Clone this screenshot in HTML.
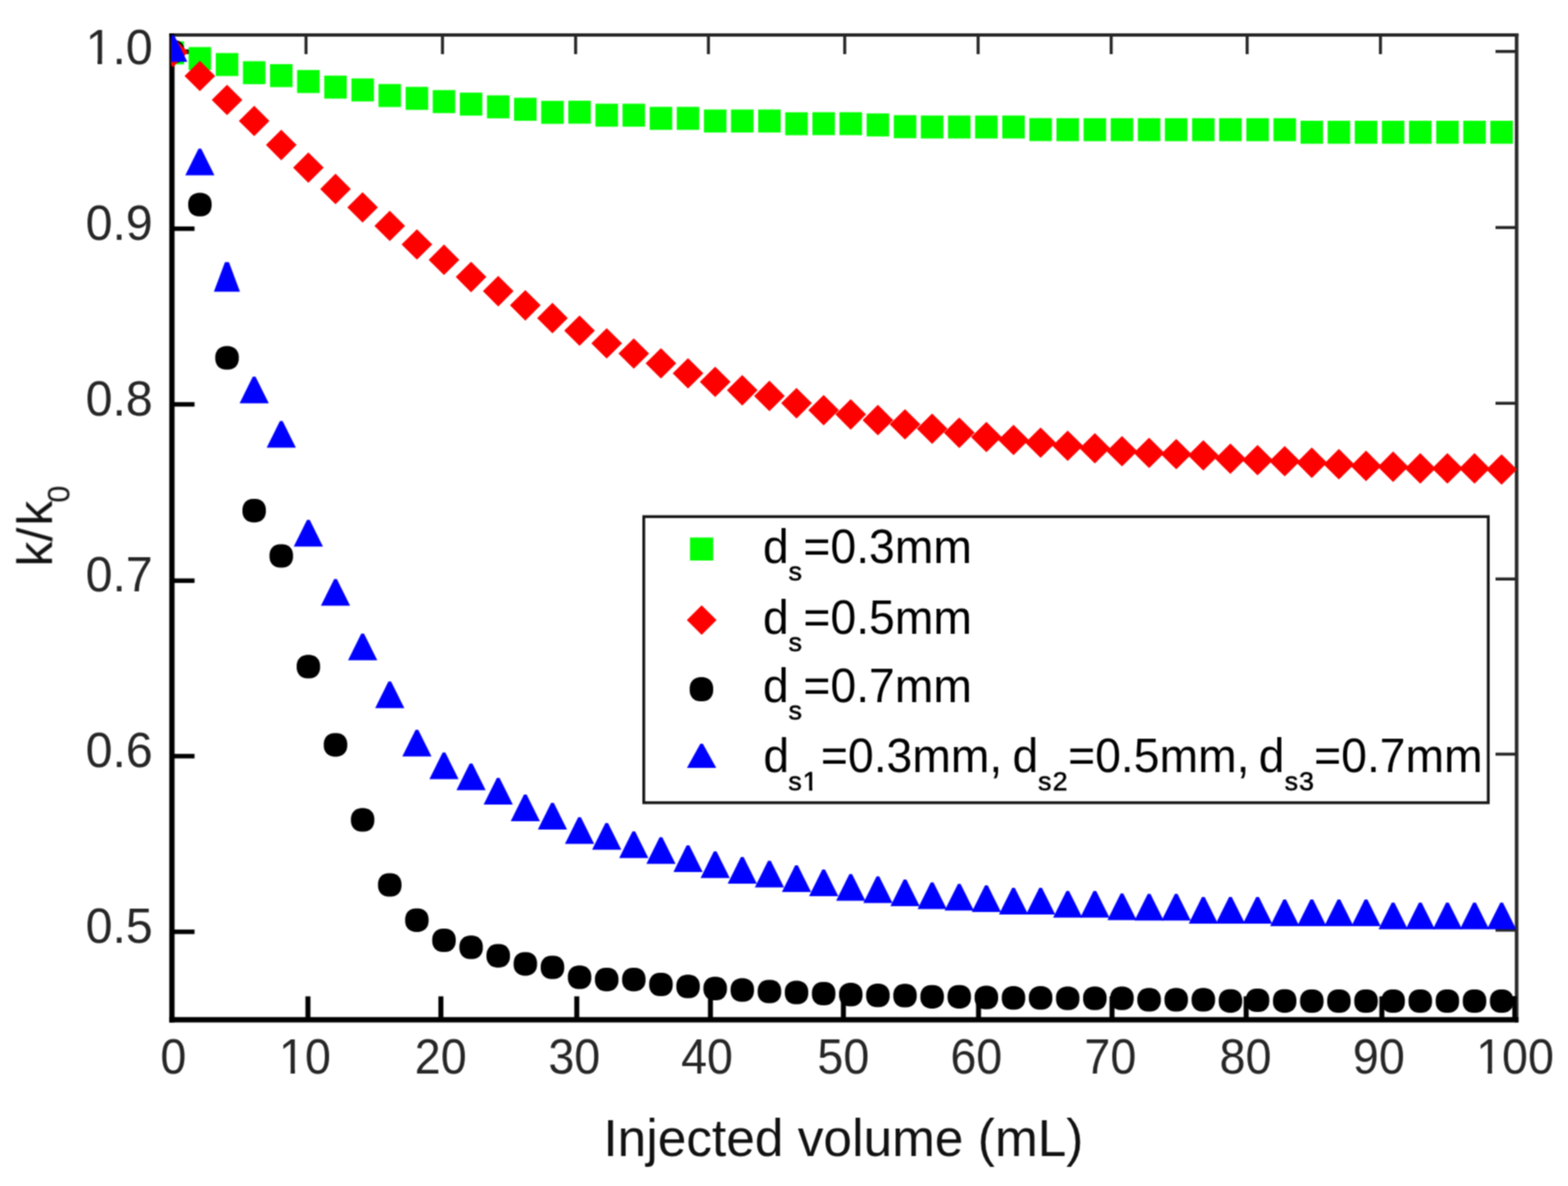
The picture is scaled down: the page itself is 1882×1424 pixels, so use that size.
<!DOCTYPE html>
<html><head><meta charset="utf-8"><title>k/k0 vs injected volume</title>
<style>html,body{margin:0;padding:0;background:#fff;}body{width:1882px;height:1424px;overflow:hidden;}svg{display:block;}.sb{stroke:#000;stroke-width:0.7px;}</style>
</head><body>
<svg width="1882" height="1424" viewBox="0 0 1882 1424">
<defs><filter id="bl" x="0" y="0" width="100%" height="100%" filterUnits="userSpaceOnUse" color-interpolation-filters="sRGB"><feConvolveMatrix order="3" kernelMatrix="1 2 1 2 4 2 1 2 1" divisor="16" edgeMode="duplicate" preserveAlpha="false"/></filter><clipPath id="pc"><rect x="205.6" y="40" width="1616" height="1187"/></clipPath></defs>
<rect width="1882" height="1424" fill="#fff"/>
<g filter="url(#bl)">
<rect x="203.2" y="40" width="1619.3" height="4" fill="#262626"/><rect x="1818.2" y="40" width="4.3" height="1187.6" fill="#2a2a2a"/><rect x="203.2" y="40" width="6.3" height="1187.6" fill="#000"/><rect x="203.2" y="1221.2" width="1619.3" height="6.4" fill="#000"/><rect x="366.6" y="1196.3" width="6" height="26" fill="#000"/><rect x="365.5" y="43" width="3.6" height="22" fill="#262626"/><rect x="526.2" y="1196.3" width="6" height="26" fill="#000"/><rect x="529.3" y="43" width="3.6" height="22" fill="#262626"/><rect x="689.3" y="1196.3" width="6" height="26" fill="#000"/><rect x="689.1" y="43" width="3.6" height="22" fill="#262626"/><rect x="849.7" y="1196.3" width="6" height="26" fill="#000"/><rect x="848.5" y="43" width="3.6" height="22" fill="#262626"/><rect x="1009.3" y="1196.3" width="6" height="26" fill="#000"/><rect x="1012.1" y="43" width="3.6" height="22" fill="#262626"/><rect x="1171.5" y="1196.3" width="6" height="26" fill="#000"/><rect x="1172.2" y="43" width="3.6" height="22" fill="#262626"/><rect x="1331.7" y="1196.3" width="6" height="26" fill="#000"/><rect x="1331.9" y="43" width="3.6" height="22" fill="#262626"/><rect x="1492.7" y="1196.3" width="6" height="26" fill="#000"/><rect x="1495.1" y="43" width="3.6" height="22" fill="#262626"/><rect x="1655.6" y="1196.3" width="6" height="26" fill="#000"/><rect x="1655.1" y="43" width="3.6" height="22" fill="#262626"/><rect x="1815.2" y="1196" width="5" height="26" fill="#000"/><rect x="209" y="59.4" width="24.5" height="5.4" fill="#000"/><rect x="1795" y="60.0" width="24" height="3.6" fill="#262626"/><rect x="209" y="271.9" width="24.5" height="5.4" fill="#000"/><rect x="1795" y="271.4" width="24" height="3.6" fill="#262626"/><rect x="209" y="482.8" width="24.5" height="5.4" fill="#000"/><rect x="1795" y="482.4" width="24" height="3.6" fill="#262626"/><rect x="209" y="694.5" width="24.5" height="5.4" fill="#000"/><rect x="1795" y="693.4" width="24" height="3.6" fill="#262626"/><rect x="209" y="905.2" width="24.5" height="5.4" fill="#000"/><rect x="1795" y="903.7" width="24" height="3.6" fill="#262626"/><rect x="209" y="1116.1" width="24.5" height="5.4" fill="#000"/><rect x="1795" y="1115.0" width="24" height="3.6" fill="#262626"/>
<g clip-path="url(#pc)">
<g fill="#00ff00"><rect x="193.9" y="49.7" width="27.0" height="27.6"/><rect x="226.4" y="56.5" width="27.0" height="27.6"/><rect x="259.0" y="63.7" width="27.0" height="27.6"/><rect x="291.6" y="73.5" width="27.0" height="27.6"/><rect x="324.1" y="77.0" width="27.0" height="27.6"/><rect x="356.6" y="84.1" width="27.0" height="27.6"/><rect x="389.2" y="90.8" width="27.0" height="27.6"/><rect x="421.8" y="94.2" width="27.0" height="27.6"/><rect x="454.3" y="100.9" width="27.0" height="27.6"/><rect x="486.9" y="104.3" width="27.0" height="27.6"/><rect x="519.4" y="108.2" width="27.0" height="27.6"/><rect x="551.9" y="111.2" width="27.0" height="27.6"/><rect x="584.5" y="114.5" width="27.0" height="27.6"/><rect x="617.0" y="117.4" width="27.0" height="27.6"/><rect x="649.6" y="121.1" width="27.0" height="27.6"/><rect x="682.1" y="120.9" width="27.0" height="27.6"/><rect x="714.7" y="124.5" width="27.0" height="27.6"/><rect x="747.2" y="124.5" width="27.0" height="27.6"/><rect x="779.8" y="128.3" width="27.0" height="27.6"/><rect x="812.3" y="128.3" width="27.0" height="27.6"/><rect x="844.9" y="131.5" width="27.0" height="27.6"/><rect x="877.4" y="131.5" width="27.0" height="27.6"/><rect x="910.0" y="131.5" width="27.0" height="27.6"/><rect x="942.5" y="134.8" width="27.0" height="27.6"/><rect x="975.1" y="134.7" width="27.0" height="27.6"/><rect x="1007.6" y="134.7" width="27.0" height="27.6"/><rect x="1040.2" y="136.2" width="27.0" height="27.6"/><rect x="1072.8" y="138.3" width="27.0" height="27.6"/><rect x="1105.3" y="138.7" width="27.0" height="27.6"/><rect x="1137.8" y="138.7" width="27.0" height="27.6"/><rect x="1170.4" y="138.7" width="27.0" height="27.6"/><rect x="1203.0" y="138.7" width="27.0" height="27.6"/><rect x="1235.5" y="141.8" width="27.0" height="27.6"/><rect x="1268.0" y="141.9" width="27.0" height="27.6"/><rect x="1300.6" y="141.9" width="27.0" height="27.6"/><rect x="1333.2" y="141.9" width="27.0" height="27.6"/><rect x="1365.7" y="141.9" width="27.0" height="27.6"/><rect x="1398.2" y="141.9" width="27.0" height="27.6"/><rect x="1430.8" y="141.9" width="27.0" height="27.6"/><rect x="1463.3" y="141.9" width="27.0" height="27.6"/><rect x="1495.9" y="141.9" width="27.0" height="27.6"/><rect x="1528.5" y="141.9" width="27.0" height="27.6"/><rect x="1561.0" y="145.0" width="27.0" height="27.6"/><rect x="1593.5" y="145.0" width="27.0" height="27.6"/><rect x="1626.1" y="145.0" width="27.0" height="27.6"/><rect x="1658.6" y="145.0" width="27.0" height="27.6"/><rect x="1691.2" y="145.0" width="27.0" height="27.6"/><rect x="1723.8" y="145.0" width="27.0" height="27.6"/><rect x="1756.3" y="145.0" width="27.0" height="27.6"/><rect x="1788.8" y="145.0" width="27.0" height="27.6"/></g>
<g fill="#000000"><path d="M221.5 64.1L220.9 67.4L219.6 70.2L217.9 72.5L215.6 74.3L212.8 75.5L209.5 76.1L205.3 76.1L202.0 75.5L199.2 74.3L196.9 72.5L195.2 70.2L193.9 67.4L193.3 64.1L193.3 59.9L193.9 56.6L195.2 53.8L196.9 51.5L199.2 49.7L202.0 48.5L205.3 47.9L209.5 47.9L212.8 48.5L215.6 49.7L217.9 51.5L219.6 53.8L220.9 56.6L221.5 59.9Z"/><path d="M254.0 247.8L253.4 251.1L252.2 253.9L250.4 256.2L248.1 258.0L245.3 259.2L242.1 259.8L237.8 259.8L234.6 259.2L231.8 258.0L229.5 256.2L227.7 253.9L226.5 251.1L225.9 247.8L225.9 243.6L226.5 240.3L227.7 237.5L229.5 235.2L231.8 233.4L234.6 232.2L237.8 231.6L242.1 231.6L245.3 232.2L248.1 233.4L250.4 235.2L252.2 237.5L253.4 240.3L254.0 243.6Z"/><path d="M286.6 431.8L286.0 435.1L284.7 437.9L283.0 440.2L280.7 442.0L277.9 443.2L274.6 443.8L270.4 443.8L267.1 443.2L264.3 442.0L262.0 440.2L260.3 437.9L259.0 435.1L258.4 431.8L258.4 427.6L259.0 424.3L260.3 421.5L262.0 419.2L264.3 417.4L267.1 416.2L270.4 415.6L274.6 415.6L277.9 416.2L280.7 417.4L283.0 419.2L284.7 421.5L286.0 424.3L286.6 427.6Z"/><path d="M319.1 615.2L318.5 618.5L317.3 621.3L315.5 623.6L313.2 625.4L310.4 626.6L307.2 627.2L302.9 627.2L299.7 626.6L296.9 625.4L294.6 623.6L292.8 621.3L291.6 618.5L291.0 615.2L291.0 611.0L291.6 607.7L292.8 604.9L294.6 602.6L296.9 600.8L299.7 599.6L302.9 599.0L307.2 599.0L310.4 599.6L313.2 600.8L315.5 602.6L317.3 604.9L318.5 607.7L319.1 611.0Z"/><path d="M351.7 669.6L351.1 672.9L349.8 675.7L348.1 678.0L345.8 679.8L343.0 681.0L339.7 681.6L335.5 681.6L332.2 681.0L329.4 679.8L327.1 678.0L325.4 675.7L324.1 672.9L323.5 669.6L323.5 665.4L324.1 662.1L325.4 659.3L327.1 657.0L329.4 655.2L332.2 654.0L335.5 653.4L339.7 653.4L343.0 654.0L345.8 655.2L348.1 657.0L349.8 659.3L351.1 662.1L351.7 665.4Z"/><path d="M384.2 802.5L383.6 805.8L382.4 808.6L380.6 810.9L378.3 812.7L375.5 813.9L372.3 814.5L368.0 814.5L364.8 813.9L362.0 812.7L359.7 810.9L357.9 808.6L356.7 805.8L356.1 802.5L356.1 798.3L356.7 795.0L357.9 792.2L359.7 789.9L362.0 788.1L364.8 786.9L368.0 786.3L372.3 786.3L375.5 786.9L378.3 788.1L380.6 789.9L382.4 792.2L383.6 795.0L384.2 798.3Z"/><path d="M416.8 896.4L416.2 899.7L414.9 902.5L413.2 904.8L410.9 906.6L408.1 907.8L404.8 908.4L400.6 908.4L397.3 907.8L394.5 906.6L392.2 904.8L390.5 902.5L389.2 899.7L388.6 896.4L388.6 892.2L389.2 888.9L390.5 886.1L392.2 883.8L394.5 882.0L397.3 880.8L400.6 880.2L404.8 880.2L408.1 880.8L410.9 882.0L413.2 883.8L414.9 886.1L416.2 888.9L416.8 892.2Z"/><path d="M449.3 986.5L448.7 989.8L447.5 992.6L445.7 994.9L443.4 996.7L440.6 997.9L437.4 998.5L433.1 998.5L429.9 997.9L427.1 996.7L424.8 994.9L423.0 992.6L421.8 989.8L421.2 986.5L421.2 982.3L421.8 979.0L423.0 976.2L424.8 973.9L427.1 972.1L429.9 970.9L433.1 970.3L437.4 970.3L440.6 970.9L443.4 972.1L445.7 973.9L447.5 976.2L448.7 979.0L449.3 982.3Z"/><path d="M481.9 1064.6L481.3 1067.9L480.0 1070.7L478.3 1073.0L476.0 1074.8L473.2 1076.0L469.9 1076.6L465.7 1076.6L462.4 1076.0L459.6 1074.8L457.3 1073.0L455.6 1070.7L454.3 1067.9L453.7 1064.6L453.7 1060.4L454.3 1057.1L455.6 1054.3L457.3 1052.0L459.6 1050.2L462.4 1049.0L465.7 1048.4L469.9 1048.4L473.2 1049.0L476.0 1050.2L478.3 1052.0L480.0 1054.3L481.3 1057.1L481.9 1060.4Z"/><path d="M514.4 1106.9L513.8 1110.2L512.6 1113.0L510.8 1115.3L508.5 1117.1L505.7 1118.3L502.5 1118.9L498.2 1118.9L495.0 1118.3L492.2 1117.1L489.9 1115.3L488.1 1113.0L486.9 1110.2L486.3 1106.9L486.3 1102.7L486.9 1099.4L488.1 1096.6L489.9 1094.3L492.2 1092.5L495.0 1091.3L498.2 1090.7L502.5 1090.7L505.7 1091.3L508.5 1092.5L510.8 1094.3L512.6 1096.6L513.8 1099.4L514.4 1102.7Z"/><path d="M547.0 1131.1L546.4 1134.4L545.1 1137.2L543.4 1139.5L541.1 1141.3L538.3 1142.5L535.0 1143.1L530.8 1143.1L527.5 1142.5L524.7 1141.3L522.4 1139.5L520.7 1137.2L519.4 1134.4L518.8 1131.1L518.8 1126.9L519.4 1123.6L520.7 1120.8L522.4 1118.5L524.7 1116.7L527.5 1115.5L530.8 1114.9L535.0 1114.9L538.3 1115.5L541.1 1116.7L543.4 1118.5L545.1 1120.8L546.4 1123.6L547.0 1126.9Z"/><path d="M579.5 1139.5L578.9 1142.8L577.7 1145.6L575.9 1147.9L573.6 1149.7L570.8 1150.9L567.6 1151.5L563.3 1151.5L560.1 1150.9L557.3 1149.7L555.0 1147.9L553.2 1145.6L552.0 1142.8L551.4 1139.5L551.4 1135.3L552.0 1132.0L553.2 1129.2L555.0 1126.9L557.3 1125.1L560.1 1123.9L563.3 1123.3L567.6 1123.3L570.8 1123.9L573.6 1125.1L575.9 1126.9L577.7 1129.2L578.9 1132.0L579.5 1135.3Z"/><path d="M612.1 1149.7L611.5 1153.0L610.2 1155.8L608.5 1158.1L606.2 1159.9L603.4 1161.1L600.1 1161.7L595.9 1161.7L592.6 1161.1L589.8 1159.9L587.5 1158.1L585.8 1155.8L584.5 1153.0L583.9 1149.7L583.9 1145.5L584.5 1142.2L585.8 1139.4L587.5 1137.1L589.8 1135.3L592.6 1134.1L595.9 1133.5L600.1 1133.5L603.4 1134.1L606.2 1135.3L608.5 1137.1L610.2 1139.4L611.5 1142.2L612.1 1145.5Z"/><path d="M644.6 1159.4L644.0 1162.7L642.8 1165.5L641.0 1167.8L638.7 1169.6L635.9 1170.8L632.7 1171.4L628.4 1171.4L625.2 1170.8L622.4 1169.6L620.1 1167.8L618.3 1165.5L617.1 1162.7L616.5 1159.4L616.5 1155.2L617.1 1151.9L618.3 1149.1L620.1 1146.8L622.4 1145.0L625.2 1143.8L628.4 1143.2L632.7 1143.2L635.9 1143.8L638.7 1145.0L641.0 1146.8L642.8 1149.1L644.0 1151.9L644.6 1155.2Z"/><path d="M677.2 1163.6L676.6 1166.9L675.3 1169.7L673.6 1172.0L671.3 1173.8L668.5 1175.0L665.2 1175.6L661.0 1175.6L657.7 1175.0L654.9 1173.8L652.6 1172.0L650.9 1169.7L649.6 1166.9L649.0 1163.6L649.0 1159.4L649.6 1156.1L650.9 1153.3L652.6 1151.0L654.9 1149.2L657.7 1148.0L661.0 1147.4L665.2 1147.4L668.5 1148.0L671.3 1149.2L673.6 1151.0L675.3 1153.3L676.6 1156.1L677.2 1159.4Z"/><path d="M709.7 1175.5L709.1 1178.8L707.9 1181.6L706.1 1183.9L703.8 1185.7L701.0 1186.9L697.8 1187.5L693.5 1187.5L690.3 1186.9L687.5 1185.7L685.2 1183.9L683.4 1181.6L682.2 1178.8L681.6 1175.5L681.6 1171.3L682.2 1168.0L683.4 1165.2L685.2 1162.9L687.5 1161.1L690.3 1159.9L693.5 1159.3L697.8 1159.3L701.0 1159.9L703.8 1161.1L706.1 1162.9L707.9 1165.2L709.1 1168.0L709.7 1171.3Z"/><path d="M742.3 1178.2L741.7 1181.5L740.4 1184.3L738.7 1186.6L736.4 1188.4L733.6 1189.6L730.3 1190.2L726.1 1190.2L722.8 1189.6L720.0 1188.4L717.7 1186.6L716.0 1184.3L714.7 1181.5L714.1 1178.2L714.1 1174.0L714.7 1170.7L716.0 1167.9L717.7 1165.6L720.0 1163.8L722.8 1162.6L726.1 1162.0L730.3 1162.0L733.6 1162.6L736.4 1163.8L738.7 1165.6L740.4 1167.9L741.7 1170.7L742.3 1174.0Z"/><path d="M774.8 1178.2L774.2 1181.5L773.0 1184.3L771.2 1186.6L768.9 1188.4L766.1 1189.6L762.9 1190.2L758.6 1190.2L755.4 1189.6L752.6 1188.4L750.3 1186.6L748.5 1184.3L747.3 1181.5L746.7 1178.2L746.7 1174.0L747.3 1170.7L748.5 1167.9L750.3 1165.6L752.6 1163.8L755.4 1162.6L758.6 1162.0L762.9 1162.0L766.1 1162.6L768.9 1163.8L771.2 1165.6L773.0 1167.9L774.2 1170.7L774.8 1174.0Z"/><path d="M807.4 1184.1L806.8 1187.4L805.5 1190.2L803.8 1192.5L801.5 1194.3L798.7 1195.5L795.4 1196.1L791.2 1196.1L787.9 1195.5L785.1 1194.3L782.8 1192.5L781.1 1190.2L779.8 1187.4L779.2 1184.1L779.2 1179.9L779.8 1176.6L781.1 1173.8L782.8 1171.5L785.1 1169.7L787.9 1168.5L791.2 1167.9L795.4 1167.9L798.7 1168.5L801.5 1169.7L803.8 1171.5L805.5 1173.8L806.8 1176.6L807.4 1179.9Z"/><path d="M839.9 1186.5L839.3 1189.8L838.1 1192.6L836.3 1194.9L834.0 1196.7L831.2 1197.9L828.0 1198.5L823.7 1198.5L820.5 1197.9L817.7 1196.7L815.4 1194.9L813.6 1192.6L812.4 1189.8L811.8 1186.5L811.8 1182.3L812.4 1179.0L813.6 1176.2L815.4 1173.9L817.7 1172.1L820.5 1170.9L823.7 1170.3L828.0 1170.3L831.2 1170.9L834.0 1172.1L836.3 1173.9L838.1 1176.2L839.3 1179.0L839.9 1182.3Z"/><path d="M872.5 1189.0L871.9 1192.3L870.6 1195.1L868.9 1197.4L866.6 1199.2L863.8 1200.4L860.5 1201.0L856.3 1201.0L853.0 1200.4L850.2 1199.2L847.9 1197.4L846.2 1195.1L844.9 1192.3L844.3 1189.0L844.3 1184.8L844.9 1181.5L846.2 1178.7L847.9 1176.4L850.2 1174.6L853.0 1173.4L856.3 1172.8L860.5 1172.8L863.8 1173.4L866.6 1174.6L868.9 1176.4L870.6 1178.7L871.9 1181.5L872.5 1184.8Z"/><path d="M905.0 1190.8L904.4 1194.1L903.2 1196.9L901.4 1199.2L899.1 1201.0L896.3 1202.2L893.1 1202.8L888.8 1202.8L885.6 1202.2L882.8 1201.0L880.5 1199.2L878.7 1196.9L877.5 1194.1L876.9 1190.8L876.9 1186.6L877.5 1183.3L878.7 1180.5L880.5 1178.2L882.8 1176.4L885.6 1175.2L888.8 1174.6L893.1 1174.6L896.3 1175.2L899.1 1176.4L901.4 1178.2L903.2 1180.5L904.4 1183.3L905.0 1186.6Z"/><path d="M937.6 1192.6L937.0 1195.9L935.7 1198.7L934.0 1201.0L931.7 1202.8L928.9 1204.0L925.6 1204.6L921.4 1204.6L918.1 1204.0L915.3 1202.8L913.0 1201.0L911.3 1198.7L910.0 1195.9L909.4 1192.6L909.4 1188.4L910.0 1185.1L911.3 1182.3L913.0 1180.0L915.3 1178.2L918.1 1177.0L921.4 1176.4L925.6 1176.4L928.9 1177.0L931.7 1178.2L934.0 1180.0L935.7 1182.3L937.0 1185.1L937.6 1188.4Z"/><path d="M970.1 1193.8L969.5 1197.1L968.3 1199.9L966.5 1202.2L964.2 1204.0L961.4 1205.2L958.2 1205.8L953.9 1205.8L950.7 1205.2L947.9 1204.0L945.6 1202.2L943.8 1199.9L942.6 1197.1L942.0 1193.8L942.0 1189.6L942.6 1186.3L943.8 1183.5L945.6 1181.2L947.9 1179.4L950.7 1178.2L953.9 1177.6L958.2 1177.6L961.4 1178.2L964.2 1179.4L966.5 1181.2L968.3 1183.5L969.5 1186.3L970.1 1189.6Z"/><path d="M1002.7 1195.1L1002.1 1198.4L1000.8 1201.2L999.1 1203.5L996.8 1205.3L994.0 1206.5L990.7 1207.1L986.5 1207.1L983.2 1206.5L980.4 1205.3L978.1 1203.5L976.4 1201.2L975.1 1198.4L974.5 1195.1L974.5 1190.9L975.1 1187.6L976.4 1184.8L978.1 1182.5L980.4 1180.7L983.2 1179.5L986.5 1178.9L990.7 1178.9L994.0 1179.5L996.8 1180.7L999.1 1182.5L1000.8 1184.8L1002.1 1187.6L1002.7 1190.9Z"/><path d="M1035.2 1196.3L1034.6 1199.6L1033.4 1202.4L1031.6 1204.7L1029.3 1206.5L1026.5 1207.7L1023.3 1208.3L1019.0 1208.3L1015.8 1207.7L1013.0 1206.5L1010.7 1204.7L1008.9 1202.4L1007.7 1199.6L1007.1 1196.3L1007.1 1192.1L1007.7 1188.8L1008.9 1186.0L1010.7 1183.7L1013.0 1181.9L1015.8 1180.7L1019.0 1180.1L1023.3 1180.1L1026.5 1180.7L1029.3 1181.9L1031.6 1183.7L1033.4 1186.0L1034.6 1188.8L1035.2 1192.1Z"/><path d="M1067.8 1197.3L1067.2 1200.6L1065.9 1203.4L1064.2 1205.7L1061.9 1207.5L1059.1 1208.7L1055.8 1209.3L1051.6 1209.3L1048.3 1208.7L1045.5 1207.5L1043.2 1205.7L1041.5 1203.4L1040.2 1200.6L1039.6 1197.3L1039.6 1193.1L1040.2 1189.8L1041.5 1187.0L1043.2 1184.7L1045.5 1182.9L1048.3 1181.7L1051.6 1181.1L1055.8 1181.1L1059.1 1181.7L1061.9 1182.9L1064.2 1184.7L1065.9 1187.0L1067.2 1189.8L1067.8 1193.1Z"/><path d="M1100.3 1197.5L1099.7 1200.8L1098.5 1203.6L1096.7 1205.9L1094.4 1207.7L1091.6 1208.9L1088.4 1209.5L1084.1 1209.5L1080.9 1208.9L1078.1 1207.7L1075.8 1205.9L1074.0 1203.6L1072.8 1200.8L1072.2 1197.5L1072.2 1193.3L1072.8 1190.0L1074.0 1187.2L1075.8 1184.9L1078.1 1183.1L1080.9 1181.9L1084.1 1181.3L1088.4 1181.3L1091.6 1181.9L1094.4 1183.1L1096.7 1184.9L1098.5 1187.2L1099.7 1190.0L1100.3 1193.3Z"/><path d="M1132.9 1198.9L1132.3 1202.2L1131.0 1205.0L1129.3 1207.3L1127.0 1209.1L1124.2 1210.3L1120.9 1210.9L1116.7 1210.9L1113.4 1210.3L1110.6 1209.1L1108.3 1207.3L1106.6 1205.0L1105.3 1202.2L1104.7 1198.9L1104.7 1194.7L1105.3 1191.4L1106.6 1188.6L1108.3 1186.3L1110.6 1184.5L1113.4 1183.3L1116.7 1182.7L1120.9 1182.7L1124.2 1183.3L1127.0 1184.5L1129.3 1186.3L1131.0 1188.6L1132.3 1191.4L1132.9 1194.7Z"/><path d="M1165.4 1198.9L1164.8 1202.2L1163.6 1205.0L1161.8 1207.3L1159.5 1209.1L1156.7 1210.3L1153.5 1210.9L1149.2 1210.9L1146.0 1210.3L1143.2 1209.1L1140.9 1207.3L1139.1 1205.0L1137.9 1202.2L1137.3 1198.9L1137.3 1194.7L1137.9 1191.4L1139.1 1188.6L1140.9 1186.3L1143.2 1184.5L1146.0 1183.3L1149.2 1182.7L1153.5 1182.7L1156.7 1183.3L1159.5 1184.5L1161.8 1186.3L1163.6 1188.6L1164.8 1191.4L1165.4 1194.7Z"/><path d="M1198.0 1199.8L1197.4 1203.1L1196.1 1205.9L1194.4 1208.2L1192.1 1210.0L1189.3 1211.2L1186.0 1211.8L1181.8 1211.8L1178.5 1211.2L1175.7 1210.0L1173.4 1208.2L1171.7 1205.9L1170.4 1203.1L1169.8 1199.8L1169.8 1195.6L1170.4 1192.3L1171.7 1189.5L1173.4 1187.2L1175.7 1185.4L1178.5 1184.2L1181.8 1183.6L1186.0 1183.6L1189.3 1184.2L1192.1 1185.4L1194.4 1187.2L1196.1 1189.5L1197.4 1192.3L1198.0 1195.6Z"/><path d="M1230.5 1200.3L1229.9 1203.6L1228.7 1206.4L1226.9 1208.7L1224.6 1210.5L1221.8 1211.7L1218.6 1212.3L1214.3 1212.3L1211.1 1211.7L1208.3 1210.5L1206.0 1208.7L1204.2 1206.4L1203.0 1203.6L1202.4 1200.3L1202.4 1196.1L1203.0 1192.8L1204.2 1190.0L1206.0 1187.7L1208.3 1185.9L1211.1 1184.7L1214.3 1184.1L1218.6 1184.1L1221.8 1184.7L1224.6 1185.9L1226.9 1187.7L1228.7 1190.0L1229.9 1192.8L1230.5 1196.1Z"/><path d="M1263.1 1200.3L1262.5 1203.6L1261.2 1206.4L1259.5 1208.7L1257.2 1210.5L1254.4 1211.7L1251.1 1212.3L1246.9 1212.3L1243.6 1211.7L1240.8 1210.5L1238.5 1208.7L1236.8 1206.4L1235.5 1203.6L1234.9 1200.3L1234.9 1196.1L1235.5 1192.8L1236.8 1190.0L1238.5 1187.7L1240.8 1185.9L1243.6 1184.7L1246.9 1184.1L1251.1 1184.1L1254.4 1184.7L1257.2 1185.9L1259.5 1187.7L1261.2 1190.0L1262.5 1192.8L1263.1 1196.1Z"/><path d="M1295.6 1200.8L1295.0 1204.1L1293.8 1206.9L1292.0 1209.2L1289.7 1211.0L1286.9 1212.2L1283.7 1212.8L1279.4 1212.8L1276.2 1212.2L1273.4 1211.0L1271.1 1209.2L1269.3 1206.9L1268.1 1204.1L1267.5 1200.8L1267.5 1196.6L1268.1 1193.3L1269.3 1190.5L1271.1 1188.2L1273.4 1186.4L1276.2 1185.2L1279.4 1184.6L1283.7 1184.6L1286.9 1185.2L1289.7 1186.4L1292.0 1188.2L1293.8 1190.5L1295.0 1193.3L1295.6 1196.6Z"/><path d="M1328.2 1200.8L1327.6 1204.1L1326.3 1206.9L1324.6 1209.2L1322.3 1211.0L1319.5 1212.2L1316.2 1212.8L1312.0 1212.8L1308.7 1212.2L1305.9 1211.0L1303.6 1209.2L1301.9 1206.9L1300.6 1204.1L1300.0 1200.8L1300.0 1196.6L1300.6 1193.3L1301.9 1190.5L1303.6 1188.2L1305.9 1186.4L1308.7 1185.2L1312.0 1184.6L1316.2 1184.6L1319.5 1185.2L1322.3 1186.4L1324.6 1188.2L1326.3 1190.5L1327.6 1193.3L1328.2 1196.6Z"/><path d="M1360.7 1200.8L1360.1 1204.1L1358.9 1206.9L1357.1 1209.2L1354.8 1211.0L1352.0 1212.2L1348.8 1212.8L1344.5 1212.8L1341.3 1212.2L1338.5 1211.0L1336.2 1209.2L1334.4 1206.9L1333.2 1204.1L1332.6 1200.8L1332.6 1196.6L1333.2 1193.3L1334.4 1190.5L1336.2 1188.2L1338.5 1186.4L1341.3 1185.2L1344.5 1184.6L1348.8 1184.6L1352.0 1185.2L1354.8 1186.4L1357.1 1188.2L1358.9 1190.5L1360.1 1193.3L1360.7 1196.6Z"/><path d="M1393.3 1202.5L1392.7 1205.8L1391.4 1208.6L1389.7 1210.9L1387.4 1212.7L1384.6 1213.9L1381.3 1214.5L1377.1 1214.5L1373.8 1213.9L1371.0 1212.7L1368.7 1210.9L1367.0 1208.6L1365.7 1205.8L1365.1 1202.5L1365.1 1198.3L1365.7 1195.0L1367.0 1192.2L1368.7 1189.9L1371.0 1188.1L1373.8 1186.9L1377.1 1186.3L1381.3 1186.3L1384.6 1186.9L1387.4 1188.1L1389.7 1189.9L1391.4 1192.2L1392.7 1195.0L1393.3 1198.3Z"/><path d="M1425.8 1202.5L1425.2 1205.8L1424.0 1208.6L1422.2 1210.9L1419.9 1212.7L1417.1 1213.9L1413.9 1214.5L1409.6 1214.5L1406.4 1213.9L1403.6 1212.7L1401.3 1210.9L1399.5 1208.6L1398.3 1205.8L1397.7 1202.5L1397.7 1198.3L1398.3 1195.0L1399.5 1192.2L1401.3 1189.9L1403.6 1188.1L1406.4 1186.9L1409.6 1186.3L1413.9 1186.3L1417.1 1186.9L1419.9 1188.1L1422.2 1189.9L1424.0 1192.2L1425.2 1195.0L1425.8 1198.3Z"/><path d="M1458.4 1202.5L1457.8 1205.8L1456.5 1208.6L1454.8 1210.9L1452.5 1212.7L1449.7 1213.9L1446.4 1214.5L1442.2 1214.5L1438.9 1213.9L1436.1 1212.7L1433.8 1210.9L1432.1 1208.6L1430.8 1205.8L1430.2 1202.5L1430.2 1198.3L1430.8 1195.0L1432.1 1192.2L1433.8 1189.9L1436.1 1188.1L1438.9 1186.9L1442.2 1186.3L1446.4 1186.3L1449.7 1186.9L1452.5 1188.1L1454.8 1189.9L1456.5 1192.2L1457.8 1195.0L1458.4 1198.3Z"/><path d="M1490.9 1203.9L1490.3 1207.2L1489.1 1210.0L1487.3 1212.3L1485.0 1214.1L1482.2 1215.3L1479.0 1215.9L1474.7 1215.9L1471.5 1215.3L1468.7 1214.1L1466.4 1212.3L1464.6 1210.0L1463.4 1207.2L1462.8 1203.9L1462.8 1199.7L1463.4 1196.4L1464.6 1193.6L1466.4 1191.3L1468.7 1189.5L1471.5 1188.3L1474.7 1187.7L1479.0 1187.7L1482.2 1188.3L1485.0 1189.5L1487.3 1191.3L1489.1 1193.6L1490.3 1196.4L1490.9 1199.7Z"/><path d="M1523.5 1203.1L1522.9 1206.4L1521.6 1209.2L1519.9 1211.5L1517.6 1213.3L1514.8 1214.5L1511.5 1215.1L1507.3 1215.1L1504.0 1214.5L1501.2 1213.3L1498.9 1211.5L1497.2 1209.2L1495.9 1206.4L1495.3 1203.1L1495.3 1198.9L1495.9 1195.6L1497.2 1192.8L1498.9 1190.5L1501.2 1188.7L1504.0 1187.5L1507.3 1186.9L1511.5 1186.9L1514.8 1187.5L1517.6 1188.7L1519.9 1190.5L1521.6 1192.8L1522.9 1195.6L1523.5 1198.9Z"/><path d="M1556.0 1203.9L1555.4 1207.2L1554.2 1210.0L1552.4 1212.3L1550.1 1214.1L1547.3 1215.3L1544.1 1215.9L1539.8 1215.9L1536.6 1215.3L1533.8 1214.1L1531.5 1212.3L1529.7 1210.0L1528.5 1207.2L1527.9 1203.9L1527.9 1199.7L1528.5 1196.4L1529.7 1193.6L1531.5 1191.3L1533.8 1189.5L1536.6 1188.3L1539.8 1187.7L1544.1 1187.7L1547.3 1188.3L1550.1 1189.5L1552.4 1191.3L1554.2 1193.6L1555.4 1196.4L1556.0 1199.7Z"/><path d="M1588.6 1204.1L1588.0 1207.4L1586.7 1210.2L1585.0 1212.5L1582.7 1214.3L1579.9 1215.5L1576.6 1216.1L1572.4 1216.1L1569.1 1215.5L1566.3 1214.3L1564.0 1212.5L1562.3 1210.2L1561.0 1207.4L1560.4 1204.1L1560.4 1199.9L1561.0 1196.6L1562.3 1193.8L1564.0 1191.5L1566.3 1189.7L1569.1 1188.5L1572.4 1187.9L1576.6 1187.9L1579.9 1188.5L1582.7 1189.7L1585.0 1191.5L1586.7 1193.8L1588.0 1196.6L1588.6 1199.9Z"/><path d="M1621.1 1204.1L1620.5 1207.4L1619.3 1210.2L1617.5 1212.5L1615.2 1214.3L1612.4 1215.5L1609.2 1216.1L1604.9 1216.1L1601.7 1215.5L1598.9 1214.3L1596.6 1212.5L1594.8 1210.2L1593.6 1207.4L1593.0 1204.1L1593.0 1199.9L1593.6 1196.6L1594.8 1193.8L1596.6 1191.5L1598.9 1189.7L1601.7 1188.5L1604.9 1187.9L1609.2 1187.9L1612.4 1188.5L1615.2 1189.7L1617.5 1191.5L1619.3 1193.8L1620.5 1196.6L1621.1 1199.9Z"/><path d="M1653.7 1204.1L1653.1 1207.4L1651.8 1210.2L1650.1 1212.5L1647.8 1214.3L1645.0 1215.5L1641.7 1216.1L1637.5 1216.1L1634.2 1215.5L1631.4 1214.3L1629.1 1212.5L1627.4 1210.2L1626.1 1207.4L1625.5 1204.1L1625.5 1199.9L1626.1 1196.6L1627.4 1193.8L1629.1 1191.5L1631.4 1189.7L1634.2 1188.5L1637.5 1187.9L1641.7 1187.9L1645.0 1188.5L1647.8 1189.7L1650.1 1191.5L1651.8 1193.8L1653.1 1196.6L1653.7 1199.9Z"/><path d="M1686.2 1204.1L1685.6 1207.4L1684.4 1210.2L1682.6 1212.5L1680.3 1214.3L1677.5 1215.5L1674.3 1216.1L1670.0 1216.1L1666.8 1215.5L1664.0 1214.3L1661.7 1212.5L1659.9 1210.2L1658.7 1207.4L1658.1 1204.1L1658.1 1199.9L1658.7 1196.6L1659.9 1193.8L1661.7 1191.5L1664.0 1189.7L1666.8 1188.5L1670.0 1187.9L1674.3 1187.9L1677.5 1188.5L1680.3 1189.7L1682.6 1191.5L1684.4 1193.8L1685.6 1196.6L1686.2 1199.9Z"/><path d="M1718.8 1204.1L1718.2 1207.4L1716.9 1210.2L1715.2 1212.5L1712.9 1214.3L1710.1 1215.5L1706.8 1216.1L1702.6 1216.1L1699.3 1215.5L1696.5 1214.3L1694.2 1212.5L1692.5 1210.2L1691.2 1207.4L1690.6 1204.1L1690.6 1199.9L1691.2 1196.6L1692.5 1193.8L1694.2 1191.5L1696.5 1189.7L1699.3 1188.5L1702.6 1187.9L1706.8 1187.9L1710.1 1188.5L1712.9 1189.7L1715.2 1191.5L1716.9 1193.8L1718.2 1196.6L1718.8 1199.9Z"/><path d="M1751.3 1204.1L1750.7 1207.4L1749.5 1210.2L1747.7 1212.5L1745.4 1214.3L1742.6 1215.5L1739.4 1216.1L1735.1 1216.1L1731.9 1215.5L1729.1 1214.3L1726.8 1212.5L1725.0 1210.2L1723.8 1207.4L1723.2 1204.1L1723.2 1199.9L1723.8 1196.6L1725.0 1193.8L1726.8 1191.5L1729.1 1189.7L1731.9 1188.5L1735.1 1187.9L1739.4 1187.9L1742.6 1188.5L1745.4 1189.7L1747.7 1191.5L1749.5 1193.8L1750.7 1196.6L1751.3 1199.9Z"/><path d="M1783.9 1204.1L1783.3 1207.4L1782.0 1210.2L1780.3 1212.5L1778.0 1214.3L1775.2 1215.5L1771.9 1216.1L1767.7 1216.1L1764.4 1215.5L1761.6 1214.3L1759.3 1212.5L1757.6 1210.2L1756.3 1207.4L1755.7 1204.1L1755.7 1199.9L1756.3 1196.6L1757.6 1193.8L1759.3 1191.5L1761.6 1189.7L1764.4 1188.5L1767.7 1187.9L1771.9 1187.9L1775.2 1188.5L1778.0 1189.7L1780.3 1191.5L1782.0 1193.8L1783.3 1196.6L1783.9 1199.9Z"/><path d="M1816.4 1204.1L1815.8 1207.4L1814.6 1210.2L1812.8 1212.5L1810.5 1214.3L1807.7 1215.5L1804.5 1216.1L1800.2 1216.1L1797.0 1215.5L1794.2 1214.3L1791.9 1212.5L1790.1 1210.2L1788.9 1207.4L1788.3 1204.1L1788.3 1199.9L1788.9 1196.6L1790.1 1193.8L1791.9 1191.5L1794.2 1189.7L1797.0 1188.5L1800.2 1187.9L1804.5 1187.9L1807.7 1188.5L1810.5 1189.7L1812.8 1191.5L1814.6 1193.8L1815.8 1196.6L1816.4 1199.9Z"/></g>
<g fill="#ff0000"><path d="M207.4 44.2L225.8 62.5L207.4 80.8L189.0 62.5Z"/><path d="M239.9 73.0L258.3 91.3L239.9 109.6L221.5 91.3Z"/><path d="M272.5 101.7L290.9 120.0L272.5 138.3L254.1 120.0Z"/><path d="M305.1 127.0L323.4 145.3L305.1 163.6L286.7 145.3Z"/><path d="M337.6 155.8L356.0 174.1L337.6 192.4L319.2 174.1Z"/><path d="M370.1 183.0L388.5 201.3L370.1 219.6L351.8 201.3Z"/><path d="M402.7 208.6L421.1 226.9L402.7 245.2L384.3 226.9Z"/><path d="M435.2 230.7L453.6 249.0L435.2 267.3L416.9 249.0Z"/><path d="M467.8 253.0L486.2 271.3L467.8 289.6L449.4 271.3Z"/><path d="M500.4 275.2L518.8 293.5L500.4 311.8L482.0 293.5Z"/><path d="M532.9 293.6L551.3 311.9L532.9 330.2L514.5 311.9Z"/><path d="M565.4 314.3L583.8 332.6L565.4 350.9L547.0 332.6Z"/><path d="M598.0 331.3L616.4 349.6L598.0 367.9L579.6 349.6Z"/><path d="M630.5 348.3L648.9 366.6L630.5 384.9L612.1 366.6Z"/><path d="M663.1 363.6L681.5 381.9L663.1 400.2L644.7 381.9Z"/><path d="M695.6 378.7L714.0 397.0L695.6 415.3L677.2 397.0Z"/><path d="M728.2 394.0L746.6 412.3L728.2 430.6L709.8 412.3Z"/><path d="M760.7 406.2L779.1 424.5L760.7 442.8L742.3 424.5Z"/><path d="M793.3 417.9L811.7 436.2L793.3 454.5L774.9 436.2Z"/><path d="M825.8 429.9L844.2 448.2L825.8 466.5L807.4 448.2Z"/><path d="M858.4 440.2L876.8 458.5L858.4 476.8L840.0 458.5Z"/><path d="M890.9 450.3L909.3 468.6L890.9 486.9L872.5 468.6Z"/><path d="M923.5 457.1L941.9 475.4L923.5 493.7L905.1 475.4Z"/><path d="M956.0 465.8L974.4 484.1L956.0 502.4L937.6 484.1Z"/><path d="M988.6 474.2L1007.0 492.5L988.6 510.8L970.2 492.5Z"/><path d="M1021.1 479.3L1039.5 497.6L1021.1 515.9L1002.7 497.6Z"/><path d="M1053.7 486.1L1072.1 504.4L1053.7 522.7L1035.3 504.4Z"/><path d="M1086.2 491.2L1104.7 509.5L1086.2 527.8L1067.8 509.5Z"/><path d="M1118.8 496.4L1137.2 514.7L1118.8 533.0L1100.4 514.7Z"/><path d="M1151.3 501.3L1169.8 519.6L1151.3 537.9L1132.9 519.6Z"/><path d="M1183.9 506.4L1202.3 524.7L1183.9 543.0L1165.5 524.7Z"/><path d="M1216.5 510.0L1234.9 528.3L1216.5 546.6L1198.0 528.3Z"/><path d="M1249.0 513.2L1267.4 531.5L1249.0 549.8L1230.6 531.5Z"/><path d="M1281.5 516.9L1300.0 535.2L1281.5 553.5L1263.1 535.2Z"/><path d="M1314.1 519.9L1332.5 538.2L1314.1 556.5L1295.7 538.2Z"/><path d="M1346.7 523.5L1365.1 541.8L1346.7 560.1L1328.2 541.8Z"/><path d="M1379.2 525.5L1397.6 543.8L1379.2 562.1L1360.8 543.8Z"/><path d="M1411.8 527.0L1430.2 545.3L1411.8 563.6L1393.3 545.3Z"/><path d="M1444.3 528.5L1462.7 546.8L1444.3 565.1L1425.9 546.8Z"/><path d="M1476.8 532.4L1495.2 550.7L1476.8 569.0L1458.4 550.7Z"/><path d="M1509.4 534.2L1527.8 552.5L1509.4 570.8L1491.0 552.5Z"/><path d="M1542.0 535.4L1560.4 553.7L1542.0 572.0L1523.5 553.7Z"/><path d="M1574.5 537.3L1592.9 555.6L1574.5 573.9L1556.1 555.6Z"/><path d="M1607.0 539.1L1625.5 557.4L1607.0 575.7L1588.6 557.4Z"/><path d="M1639.6 541.1L1658.0 559.4L1639.6 577.7L1621.2 559.4Z"/><path d="M1672.1 542.1L1690.5 560.4L1672.1 578.7L1653.7 560.4Z"/><path d="M1704.7 544.1L1723.1 562.4L1704.7 580.7L1686.3 562.4Z"/><path d="M1737.2 544.1L1755.7 562.4L1737.2 580.7L1718.8 562.4Z"/><path d="M1769.8 544.1L1788.2 562.4L1769.8 580.7L1751.4 562.4Z"/><path d="M1802.3 545.4L1820.8 563.7L1802.3 582.0L1783.9 563.7Z"/></g>
<g fill="#0000ff"><path d="M205.8 42.2L209.0 42.2L224.9 74.2L189.9 74.2Z"/><path d="M238.3 178.5L241.5 178.5L257.4 210.5L222.4 210.5Z"/><path d="M270.0 314.8L274.8 314.8L288.0 350.3L256.7 350.3Z"/><path d="M303.4 452.3L306.7 452.3L322.6 484.3L287.6 484.3Z"/><path d="M336.0 505.5L339.2 505.5L355.1 537.5L320.1 537.5Z"/><path d="M368.5 624.2L371.8 624.2L387.6 656.2L352.6 656.2Z"/><path d="M401.1 695.3L404.3 695.3L420.2 727.3L385.2 727.3Z"/><path d="M433.6 760.7L436.9 760.7L452.8 792.7L417.8 792.7Z"/><path d="M466.2 818.2L469.4 818.2L485.3 850.2L450.3 850.2Z"/><path d="M498.8 876.3L502.0 876.3L517.9 908.3L482.9 908.3Z"/><path d="M531.3 903.5L534.5 903.5L550.4 935.5L515.4 935.5Z"/><path d="M563.8 916.8L567.0 916.8L582.9 948.8L547.9 948.8Z"/><path d="M596.4 934.0L599.6 934.0L615.5 966.0L580.5 966.0Z"/><path d="M628.9 954.0L632.1 954.0L648.0 986.0L613.0 986.0Z"/><path d="M661.5 964.1L664.7 964.1L680.6 996.1L645.6 996.1Z"/><path d="M694.0 981.2L697.2 981.2L713.1 1013.2L678.1 1013.2Z"/><path d="M726.6 988.2L729.8 988.2L745.7 1020.2L710.7 1020.2Z"/><path d="M759.1 998.2L762.3 998.2L778.2 1030.2L743.2 1030.2Z"/><path d="M791.7 1005.2L794.9 1005.2L810.8 1037.2L775.8 1037.2Z"/><path d="M824.2 1015.1L827.4 1015.1L843.3 1047.1L808.3 1047.1Z"/><path d="M856.8 1022.3L860.0 1022.3L875.9 1054.3L840.9 1054.3Z"/><path d="M889.3 1029.1L892.5 1029.1L908.4 1061.1L873.4 1061.1Z"/><path d="M921.9 1033.4L925.1 1033.4L941.0 1065.4L906.0 1065.4Z"/><path d="M954.4 1039.0L957.6 1039.0L973.5 1071.0L938.5 1071.0Z"/><path d="M987.0 1044.0L990.2 1044.0L1006.1 1076.0L971.1 1076.0Z"/><path d="M1019.5 1049.5L1022.7 1049.5L1038.6 1081.5L1003.6 1081.5Z"/><path d="M1052.1 1052.3L1055.3 1052.3L1071.2 1084.3L1036.2 1084.3Z"/><path d="M1084.7 1055.9L1087.8 1055.9L1103.8 1087.9L1068.8 1087.9Z"/><path d="M1117.2 1059.6L1120.4 1059.6L1136.3 1091.6L1101.3 1091.6Z"/><path d="M1149.8 1061.3L1152.9 1061.3L1168.8 1093.3L1133.8 1093.3Z"/><path d="M1182.3 1063.1L1185.5 1063.1L1201.4 1095.1L1166.4 1095.1Z"/><path d="M1214.9 1066.1L1218.0 1066.1L1234.0 1098.1L1199.0 1098.1Z"/><path d="M1247.4 1066.1L1250.6 1066.1L1266.5 1098.1L1231.5 1098.1Z"/><path d="M1280.0 1069.7L1283.1 1069.7L1299.0 1101.7L1264.0 1101.7Z"/><path d="M1312.5 1069.7L1315.7 1069.7L1331.6 1101.7L1296.6 1101.7Z"/><path d="M1345.1 1072.8L1348.2 1072.8L1364.2 1104.8L1329.2 1104.8Z"/><path d="M1377.6 1073.2L1380.8 1073.2L1396.7 1105.2L1361.7 1105.2Z"/><path d="M1410.2 1073.2L1413.3 1073.2L1429.2 1105.2L1394.2 1105.2Z"/><path d="M1442.7 1077.0L1445.9 1077.0L1461.8 1109.0L1426.8 1109.0Z"/><path d="M1475.2 1077.0L1478.4 1077.0L1494.3 1109.0L1459.3 1109.0Z"/><path d="M1507.8 1077.0L1511.0 1077.0L1526.9 1109.0L1491.9 1109.0Z"/><path d="M1540.4 1080.1L1543.5 1080.1L1559.5 1112.1L1524.5 1112.1Z"/><path d="M1572.9 1080.1L1576.1 1080.1L1592.0 1112.1L1557.0 1112.1Z"/><path d="M1605.5 1080.1L1608.6 1080.1L1624.5 1112.1L1589.5 1112.1Z"/><path d="M1638.0 1080.1L1641.2 1080.1L1657.1 1112.1L1622.1 1112.1Z"/><path d="M1670.5 1083.7L1673.7 1083.7L1689.6 1115.7L1654.6 1115.7Z"/><path d="M1703.1 1083.7L1706.3 1083.7L1722.2 1115.7L1687.2 1115.7Z"/><path d="M1735.7 1083.7L1738.8 1083.7L1754.8 1115.7L1719.8 1115.7Z"/><path d="M1768.2 1083.7L1771.4 1083.7L1787.3 1115.7L1752.3 1115.7Z"/><path d="M1800.8 1083.7L1803.9 1083.7L1819.8 1115.7L1784.8 1115.7Z"/></g>
</g>
<g font-family="'Liberation Sans', Arial, sans-serif" font-size="59" fill="#262626"><g transform="translate(208.2 1289.0) scale(0.95 1)"><text text-anchor="middle">0</text></g><g transform="translate(366.0 1289.0) scale(0.95 1)"><text text-anchor="middle">10</text><rect x="-29.32" y="-6.01" width="11.19" height="7.41" fill="#fff"/><rect x="-12.61" y="-6.01" width="10.73" height="7.41" fill="#fff"/></g><g transform="translate(528.9 1289.0) scale(0.95 1)"><text text-anchor="middle">20</text></g><g transform="translate(689.3 1289.0) scale(0.95 1)"><text text-anchor="middle">30</text></g><g transform="translate(848.6 1289.0) scale(0.95 1)"><text text-anchor="middle">40</text></g><g transform="translate(1012.2 1289.0) scale(0.95 1)"><text text-anchor="middle">50</text></g><g transform="translate(1171.8 1289.0) scale(0.95 1)"><text text-anchor="middle">60</text></g><g transform="translate(1332.7 1289.0) scale(0.95 1)"><text text-anchor="middle">70</text></g><g transform="translate(1494.9 1289.0) scale(0.95 1)"><text text-anchor="middle">80</text></g><g transform="translate(1655.0 1289.0) scale(0.95 1)"><text text-anchor="middle">90</text></g><g transform="translate(1818.4 1289.0) scale(0.95 1)"><text text-anchor="middle">100</text><rect x="-45.73" y="-6.01" width="11.19" height="7.41" fill="#fff"/><rect x="-29.02" y="-6.01" width="10.73" height="7.41" fill="#fff"/></g><g transform="translate(183.4 77.4) scale(0.985 1)"><text text-anchor="end">1.0</text><rect x="-78.52" y="-6.01" width="11.19" height="7.41" fill="#fff"/><rect x="-61.82" y="-6.01" width="10.73" height="7.41" fill="#fff"/></g><g transform="translate(183.4 288.4) scale(0.985 1)"><text text-anchor="end">0.9</text></g><g transform="translate(183.4 499.4) scale(0.985 1)"><text text-anchor="end">0.8</text></g><g transform="translate(183.4 710.4) scale(0.985 1)"><text text-anchor="end">0.7</text></g><g transform="translate(183.4 921.4) scale(0.985 1)"><text text-anchor="end">0.6</text></g><g transform="translate(183.4 1132.4) scale(0.985 1)"><text text-anchor="end">0.5</text></g></g>
<text font-family="'Liberation Sans', Arial, sans-serif" font-size="63.5" fill="#111" transform="translate(724.2 1387.8) scale(0.972 1)">Injected volume (mL)</text>
<text font-family="'Liberation Sans', Arial, sans-serif" font-size="60" fill="#111" transform="translate(62.4 680.2) rotate(-90)">k/<tspan dx="2.4">k</tspan><tspan font-size="36.5" dx="-2.2" dy="20.8">0</tspan></text>
<rect x="772.7" y="620.3" width="1013.6" height="343.5" fill="#fff" stroke="#161616" stroke-width="3.4"/><g fill="#00ff00"><rect x="828.2" y="645.4" width="27.8" height="27.6"/></g><g fill="#ff0000"><path d="M842.2 726.7L860.0 744.5L842.2 762.3L824.4 744.5Z"/></g><g fill="#000"><path d="M856.0 829.8L855.4 833.2L854.2 836.0L852.4 838.4L850.1 840.2L847.3 841.5L844.0 842.1L839.8 842.1L836.5 841.5L833.7 840.2L831.4 838.4L829.6 836.0L828.4 833.2L827.8 829.8L827.8 825.4L828.4 822.0L829.6 819.2L831.4 816.8L833.7 815.0L836.5 813.7L839.8 813.1L844.0 813.1L847.3 813.7L850.1 815.0L852.4 816.8L854.2 819.2L855.4 822.0L856.0 825.4Z"/></g><g fill="#0000ff"><path d="M840.6 893.1L843.6 893.1L859.7 922.1L824.5 922.1Z"/></g>
<g font-family="'Liberation Sans', Arial, sans-serif" font-size="57" fill="#000"><text transform="translate(915.7 675.6) scale(0.975 1)">d</text><text x="946.4" y="696.7" font-size="32" class="sb">s</text><text transform="translate(964.3 675.6) scale(0.975 1)">=0.3mm</text><text transform="translate(915.7 760.6) scale(0.975 1)">d</text><text x="946.4" y="781.7" font-size="32" class="sb">s</text><text transform="translate(964.3 760.6) scale(0.975 1)">=0.5mm</text><text transform="translate(915.7 842.5) scale(0.975 1)">d</text><text x="946.4" y="863.6" font-size="32" class="sb">s</text><text transform="translate(964.3 842.5) scale(0.975 1)">=0.7mm</text><text transform="translate(916.3 927.4) scale(0.975 1)">d</text><text x="946.3" y="948.5" font-size="32" class="sb">s<tspan dx="1.3">1</tspan></text><rect x="964.84" y="944.51" width="6.31" height="5.39" fill="#fff"/><rect x="974.98" y="944.51" width="6.06" height="5.39" fill="#fff"/><text transform="translate(985.3 927.4) scale(0.975 1)">=0.3mm,</text><text transform="translate(1215.2 927.4) scale(0.975 1)">d</text><text x="1246.1" y="948.5" font-size="32" class="sb">s<tspan dx="1.3">2</tspan></text><text transform="translate(1282.0 927.4) scale(0.975 1)">=0.5mm,</text><text transform="translate(1510.7 927.4) scale(0.975 1)">d</text><text x="1541.9" y="948.5" font-size="32" class="sb">s<tspan dx="1.3">3</tspan></text><text transform="translate(1577.3 927.4) scale(0.975 1)">=0.7mm</text></g>
</g>
</svg>
</body></html>
